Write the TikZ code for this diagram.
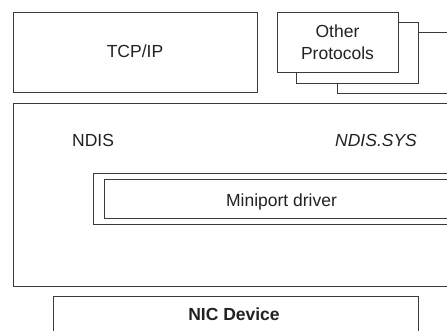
\documentclass[tikz,border=0pt]{standalone}
\usepackage{fontspec}
\setmainfont{Liberation Sans}
\definecolor{edge}{HTML}{3A3A3A}
\definecolor{ink}{HTML}{222222}
\tikzset{
  box/.style={draw=edge, line width=1.1pt, fill=white, inner sep=0pt, anchor=north west, rectangle},
  lbl/.style={text=ink, inner sep=0pt, font=\fontsize{17.5}{21.5}\selectfont, align=center}
}
\begin{document}
\begin{tikzpicture}[x=1pt,y=-1pt]
\useasboundingbox (0,0) rectangle (447,330);
\clip (0,0) rectangle (447,330);
% top row
\node[box, minimum width=244pt, minimum height=80pt] (tcp) at (13,12) {};
\node[lbl] (tcpl) at (135,51) {TCP/IP};
\node[box, minimum width=140pt, minimum height=61pt] (op3) at (337,32) {};
\node[box, minimum width=122pt, minimum height=61pt] (op2) at (296,22) {};
\node[box, minimum width=121pt, minimum height=60pt] (op1) at (277,12) {};
\node[lbl] (opl) at (337.5,42) {Other\\Protocols};
% NDIS
\node[box, minimum width=470pt, minimum height=183pt] (ndis) at (13,103) {};
\node[lbl, anchor=base west] (ndisl) at (72,146.7) {NDIS};
\node[lbl, anchor=base west, font=\fontsize{17.5}{21.5}\selectfont\itshape] (sys) at (335,146.7) {NDIS.SYS};
\node[box, minimum width=400pt, minimum height=51pt] (mpo) at (93,173) {};
\node[box, minimum width=355pt, minimum height=39pt] (mpi) at (104,179) {};
\node[lbl, anchor=base] (mpl) at (281.5,206.7) {Miniport driver};
% NIC
\node[box, minimum width=365pt, minimum height=60pt] (nic) at (53,296) {};
\node[lbl, anchor=base, font=\fontsize{17.5}{21.5}\selectfont\bfseries] (nicl) at (234,320) {NIC Device};
\end{tikzpicture}
\end{document}
